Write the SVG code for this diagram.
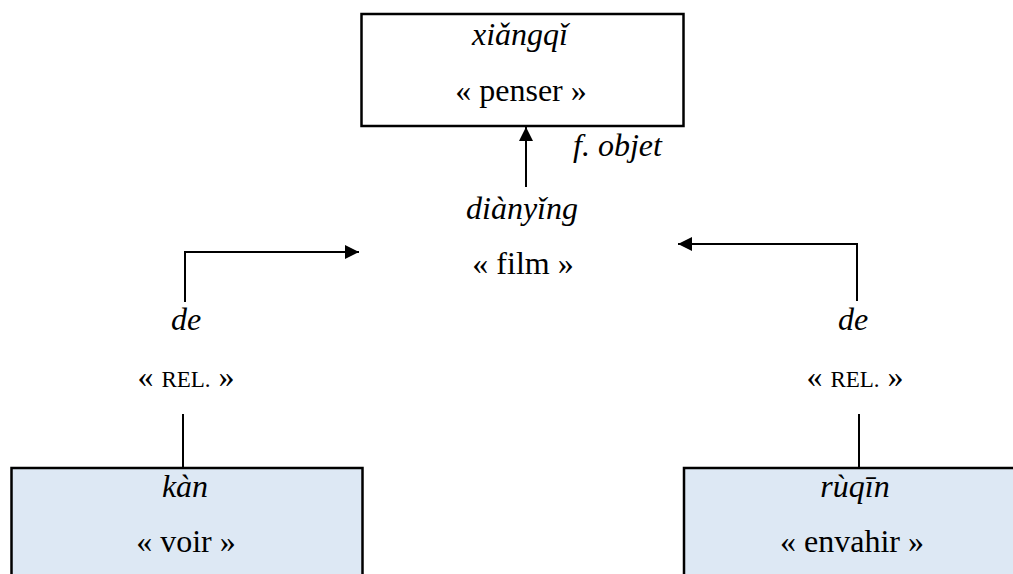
<svg xmlns="http://www.w3.org/2000/svg" width="1013" height="574" viewBox="0 0 1013 574">
<style>
text{font-family:"Liberation Serif","Times New Roman",serif;font-size:32px;fill:#000;text-anchor:middle}
.i{font-style:italic}
.sc{font-size:23px}
.box{fill:#fff;stroke:#000;stroke-width:2.5}
.blue{fill:#DDE8F4;stroke:#000;stroke-width:2.5}
.ln{fill:none;stroke:#000;stroke-width:2}
</style>
<defs>
<marker id="ah" viewBox="0 0 10 10" refX="10" refY="5" markerWidth="14" markerHeight="14" markerUnits="userSpaceOnUse" orient="auto">
<path d="M0,0 L10,5 L0,10 Z" fill="#000"/>
</marker>
</defs>
<g id="connectors">
<path class="ln" d="M526,187 L526,127" marker-end="url(#ah)"/>
<path class="ln" d="M185,302 L185,252 L359,252" marker-end="url(#ah)"/>
<path class="ln" d="M857,301 L857,244 L678,244" marker-end="url(#ah)"/>
<path class="ln" d="M183,414 L183,468"/>
<path class="ln" d="M859,414 L859,468"/>
</g>
<g id="node-xiangqi">
<rect class="box" x="361.5" y="14" width="322" height="112"/>
<text class="i" x="520" y="45">xiǎngqǐ</text>
<text x="521" y="101">« penser »</text>
</g>
<g id="label-fobjet">
<text class="i" x="573" y="156" style="text-anchor:start">f. objet</text>
</g>
<g id="node-dianying">
<text class="i" x="522" y="219">diànyǐng</text>
<text x="523" y="274">« film »</text>
</g>
<g id="node-de-left">
<text class="i" x="186" y="330">de</text>
<text x="186" y="387">« <tspan class="sc">REL.</tspan> »</text>
</g>
<g id="node-de-right">
<text class="i" x="853" y="330">de</text>
<text x="855" y="387">« <tspan class="sc">REL.</tspan> »</text>
</g>
<g id="node-kan">
<rect class="blue" x="11.5" y="468" width="351" height="120"/>
<text class="i" x="185" y="497">kàn</text>
<text x="186" y="552">« voir »</text>
</g>
<g id="node-ruqin">
<rect class="blue" x="684" y="468" width="350" height="120"/>
<text class="i" x="855" y="497">rùqīn</text>
<text x="852" y="552">« envahir »</text>
</g>
</svg>
